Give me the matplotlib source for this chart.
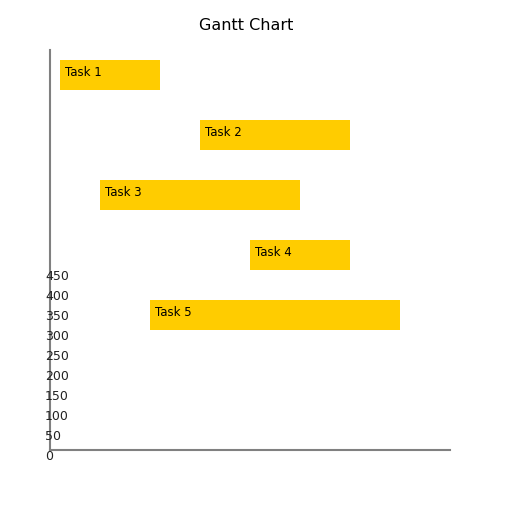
import matplotlib.pyplot as plt

tasks = ["Task 1", "Task 2", "Task 3", "Task 4", "Task 5"]
starts = [10, 150, 50, 200, 100]
durations = [100, 150, 200, 100, 250]
y_tick_values = [0, 50, 100, 150, 200, 250, 300, 350, 400, 450]

fig = plt.figure(figsize=(5.12, 5.12), dpi=100)
# axes spans pixels 50..450 both ways
ax = fig.add_axes([50 / 512, 62 / 512, 400 / 512, 400 / 512])
ax.set_xlim(0, 400)
ax.set_ylim(400, 0)

rows = [10 + 60 * i for i in range(len(tasks))]
ax.barh(rows, durations, left=starts, height=30, align="edge", color="#ffcc00")
for name, s, r in zip(tasks, starts, rows):
    ax.text(s + 5, r + 12, name, fontsize=8.5, va="center", ha="left", color="black")

# odd y labels, stacked below the axis origin
for v in y_tick_values:
    ax.text(-5, 406 - 0.4 * v, str(v), fontsize=9, va="center", ha="left",
            color="#222222", clip_on=False)

for side in ["top", "right"]:
    ax.spines[side].set_visible(False)
for side in ["left", "bottom"]:
    ax.spines[side].set_color("#808080")
    ax.spines[side].set_linewidth(1.5)
ax.set_xticks([])
ax.set_yticks([])

fig.text(246.5 / 512, 1 - 25 / 512, "Gantt Chart", ha="center", va="center", fontsize=11.5)

fig.savefig("out.png", dpi=100)
